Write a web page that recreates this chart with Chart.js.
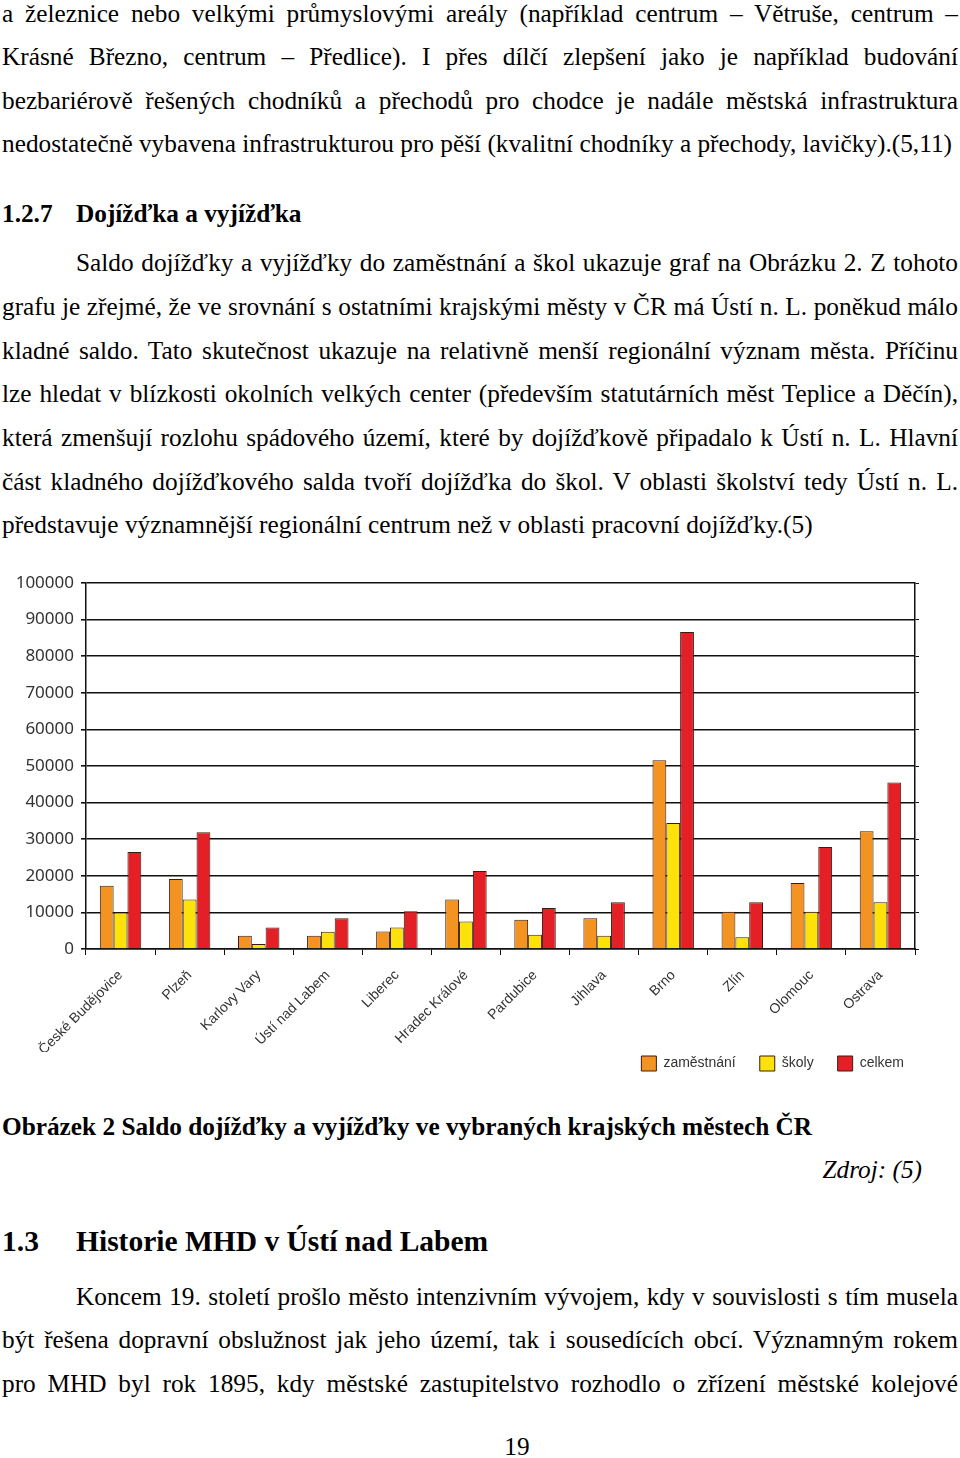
<!DOCTYPE html>
<html lang="cs">
<head>
<meta charset="utf-8">
<script src="https://cdn.jsdelivr.net/npm/chart.js@4"></script>
<style>
  html, body { margin: 0; padding: 0; background: #fff; }
  body { width: 960px; height: 1458px; position: relative; overflow: hidden;
         font-family: "Liberation Serif", "Times New Roman", serif; color: #000; }
  .ln { position: absolute; height: 30px; line-height: 30px; font-size: 25.3px; white-space: nowrap; }
  .j { text-align: justify; text-align-last: justify; }
  .b { font-weight: bold; }
  .i { font-style: italic; }
  #chartBox { position: absolute; left: 0; top: 565px; width: 960px; height: 540px; }
</style>
</head>
<body>

<div class="ln j" style="top:-2px;left:2px;width:956px">a železnice nebo velkými průmyslovými areály (například centrum – Větruše, centrum –</div>
<div class="ln j" style="top:41px;left:2px;width:956px">Krásné Březno, centrum – Předlice). I přes dílčí zlepšení jako je například budování</div>
<div class="ln j" style="top:85px;left:2px;width:956px">bezbariérově řešených chodníků a přechodů pro chodce je nadále městská infrastruktura</div>
<div class="ln" style="top:128px;left:2px">nedostatečně vybavena infrastrukturou pro pěší (kvalitní chodníky a přechody, lavičky).(5,11)</div>

<div class="ln b" style="top:198px;left:2px">1.2.7</div>
<div class="ln b" style="top:198px;left:76px">Dojížďka a vyjížďka</div>

<div class="ln j" style="top:247px;left:76px;width:882px">Saldo dojížďky a vyjížďky do zaměstnání a škol ukazuje graf na Obrázku 2. Z tohoto</div>
<div class="ln j" style="top:291px;left:2px;width:956px">grafu je zřejmé, že ve srovnání s ostatními krajskými městy v ČR má Ústí n. L. poněkud málo</div>
<div class="ln j" style="top:335px;left:2px;width:956px">kladné saldo. Tato skutečnost ukazuje na relativně menší regionální význam města. Příčinu</div>
<div class="ln j" style="top:378px;left:2px;width:956px">lze hledat v blízkosti okolních velkých center (především statutárních měst Teplice a Děčín),</div>
<div class="ln j" style="top:422px;left:2px;width:956px">která zmenšují rozlohu spádového území, které by dojížďkově připadalo k Ústí n. L. Hlavní</div>
<div class="ln j" style="top:466px;left:2px;width:956px">část kladného dojížďkového salda tvoří dojížďka do škol. V oblasti školství tedy Ústí n. L.</div>
<div class="ln" style="top:509px;left:2px">představuje významnější regionální centrum než v oblasti pracovní dojížďky.(5)</div>

<div id="chartBox"><canvas id="chart" width="960" height="540"></canvas></div>

<div class="ln b" style="top:1111px;left:2px">Obrázek 2 Saldo dojížďky a vyjížďky ve vybraných krajských městech ČR</div>
<div class="ln i" style="top:1154px;right:38px">Zdroj: (5)</div>

<div class="ln b" style="top:1224px;left:2px;font-size:29.5px;height:34px;line-height:34px">1.3</div>
<div class="ln b" style="top:1224px;left:76px;font-size:29.5px;height:34px;line-height:34px">Historie MHD v Ústí nad Labem</div>

<div class="ln j" style="top:1281px;left:76px;width:882px">Koncem 19. století prošlo město intenzivním vývojem, kdy v souvislosti s tím musela</div>
<div class="ln j" style="top:1324px;left:2px;width:956px">být řešena dopravní obslužnost jak jeho území, tak i sousedících obcí. Významným rokem</div>
<div class="ln j" style="top:1368px;left:2px;width:956px">pro MHD byl rok 1895, kdy městské zastupitelstvo rozhodlo o zřízení městské kolejové</div>

<div class="ln" style="top:1431px;left:0;width:1034px;text-align:center">19</div>

<script>
const categories = ['České Budějovice', 'Plzeň', 'Karlovy Vary', 'Ústí nad Labem', 'Liberec',
  'Hradec Králové', 'Pardubice', 'Jihlava', 'Brno', 'Zlín', 'Olomouc', 'Ostrava'];
const zamestnani = [17300, 19100, 3600, 3600, 4800, 13500, 8000, 8400, 51600, 10200, 18000, 32200];
const skoly = [10000, 13500, 1400, 4700, 5900, 7500, 3900, 3600, 34400, 3200, 10200, 12800];
const celkem = [26500, 31900, 5900, 8400, 10300, 21300, 11200, 12800, 86600, 12800, 27900, 45500];
const yMin = 0, yMax = 100000, yStep = 10000;

const sans = "'Liberation Sans', Arial, sans-serif";
const lineCol = '#111';
const edge = '#3b1c12';

// pull the legend up a bit, closer to the rotated city names
const legendLift = {
  id: 'legendLift',
  afterLayout(chart) {
    chart.legend.top -= 20;
    chart.legend.bottom -= 20;
  }
};

const ctx = document.getElementById('chart').getContext('2d');
new Chart(ctx, {
  type: 'bar',
  data: {
    labels: categories,
    datasets: [
      { label: 'zaměstnání', data: zamestnani, backgroundColor: '#f39322', borderColor: edge, borderWidth: 1 },
      { label: 'školy', data: skoly, backgroundColor: '#fde10a', borderColor: edge, borderWidth: 1 },
      { label: 'celkem', data: celkem, backgroundColor: '#e41f26', borderColor: edge, borderWidth: 1 }
    ]
  },
  plugins: [legendLift],
  options: {
    responsive: false,
    animation: false,
    datasets: { bar: { categoryPercentage: 0.6, barPercentage: 1.0 } },
    layout: { padding: { top: 18, right: 32, bottom: 4, left: 0 } },
    scales: {
      x: {
        afterFit: s => { s.height = 103; },
        grid: { display: true, drawOnChartArea: false, tickLength: 6, color: lineCol, lineWidth: 1 },
        border: { color: lineCol, width: 1.5 },
        ticks: { color: '#333', maxRotation: 45, minRotation: 45, padding: 12,
                 font: { family: sans, size: 14 } }
      },
      y: {
        min: yMin, max: yMax,
        afterFit: s => { s.width = 86; },
        grid: { color: lineCol, lineWidth: 1.6, tickLength: 5 },
        border: { color: lineCol, width: 1.5 },
        ticks: { stepSize: yStep, color: '#333', padding: 7, callback: v => String(v),
                 font: { family: "'Noto Sans', sans-serif", size: 17 } }
      },
      y2: {
        position: 'right', min: yMin, max: yMax,
        afterFit: s => { s.width = 13; },
        grid: { drawOnChartArea: false, color: lineCol, tickLength: 4 },
        border: { color: lineCol, width: 1.5 },
        ticks: { stepSize: yStep, display: false }
      }
    },
    plugins: {
      legend: {
        position: 'bottom', align: 'end',
        labels: { boxWidth: 15, boxHeight: 15, padding: 24, color: '#333',
                  font: { family: sans, size: 14 } }
      },
      tooltip: { enabled: false }
    }
  }
});
</script>
</body>
</html>
